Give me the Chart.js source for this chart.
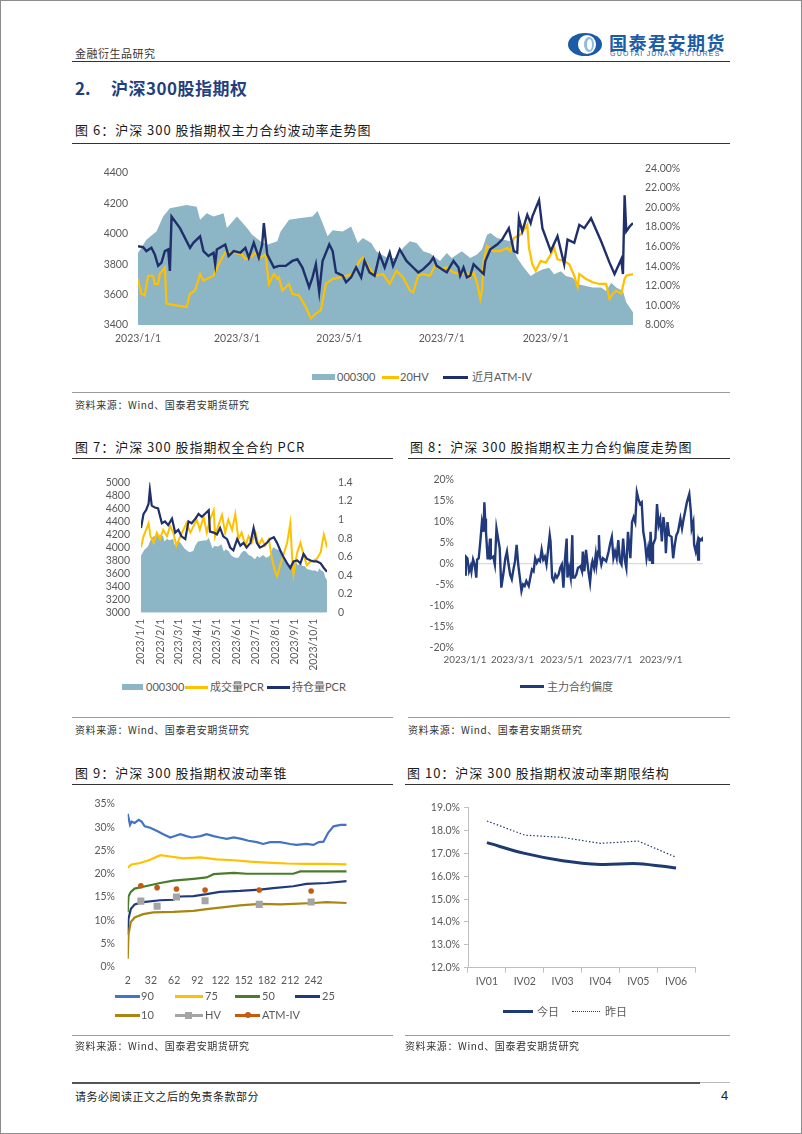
<!DOCTYPE html>
<html lang="zh-CN">
<head>
<meta charset="utf-8">
<title>沪深300股指期权</title>
<script src="https://cdn.jsdelivr.net/npm/chart.js@4.4.0/dist/chart.umd.min.js"></script>
<style>
  html, body { margin: 0; padding: 0; background: #fff; }
  body { width: 802px; height: 1134px; position: relative; overflow: hidden;
         font-family: "Noto Sans CJK SC", "Noto Sans", sans-serif; color: #222; }
  .frame { position: absolute; left: 0; top: 0; width: 800px; height: 1132px; border: 1px solid #8c8c8c; }
  .abs { position: absolute; white-space: nowrap; }
  .hl { position: absolute; height: 0; }
  canvas { position: absolute; }
  .ftitle { font-size: 13px; letter-spacing: 1px; line-height: 16px; color: #1a1a1a; }
  .src { font-size: 10px; line-height: 12px; color: #333; letter-spacing: 0.6px; }
  .lg { font-family: Lato, "Noto Sans CJK SC", sans-serif; font-size: 11px; color: #595959; line-height: 14px; }
  .sw { position: absolute; }
</style>
</head>
<body>
<div class="frame"></div>

<!-- 页眉 -->
<div class="abs" style="left:75px;top:46px;font-size:11px;line-height:14px;color:#333;letter-spacing:0.5px;">金融衍生品研究</div>
<div class="abs" style="left:568px;top:33px;width:34px;height:23px;border-radius:50%;background:#1c5ba6;"></div>
<div class="abs" style="left:578px;top:35px;width:18px;height:19px;border-radius:50%;background:#fff;"></div>
<div class="abs" style="left:584px;top:37px;width:10px;height:15px;border-radius:50%;background:#8fbbe3;"></div>
<div class="abs" style="left:587px;top:39px;width:5px;height:11px;border-radius:50%;background:#fff;"></div>
<div class="abs" style="left:609px;top:31px;font-size:18px;line-height:22px;font-weight:bold;color:#1c5ba6;letter-spacing:1.5px;">国泰君安期货</div>
<div class="abs" style="left:610px;top:50px;font-family:'Liberation Sans',sans-serif;font-size:7px;line-height:8px;color:#1c5ba6;letter-spacing:1.2px;">GUOTAI JUNAN FUTURES</div>
<div class="hl" style="left:72px;top:61px;width:658px;border-top:1.5px solid #333;"></div>

<div class="abs" style="left:75px;top:77px;font-size:17px;line-height:22px;font-weight:bold;color:#1f3f7f;">2.</div>
<div class="abs" style="left:111px;top:77px;font-size:17px;line-height:22px;font-weight:bold;color:#1f3f7f;letter-spacing:0.5px;">沪深300股指期权</div>

<!-- 图6 -->
<div class="abs ftitle" style="left:75px;top:122px;">图 6：沪深 300 股指期权主力合约波动率走势图</div>
<div class="hl" style="left:72px;top:143px;width:658px;border-top:1px solid #333;"></div>
<canvas id="c6" width="615" height="205" style="left:85px;top:150px;"></canvas>
<div class="sw" style="left:312px;top:374px;width:23px;height:6px;background:#8cb5c5;"></div>
<div class="abs lg" style="left:337px;top:370px;">000300</div>
<div class="sw" style="left:382px;top:376px;width:17px;height:3px;background:#ffc000;"></div>
<div class="abs lg" style="left:400px;top:370px;">20HV</div>
<div class="sw" style="left:443px;top:376px;width:25px;height:3px;background:#1f2f6b;"></div>
<div class="abs lg" style="left:472px;top:370px;">近月ATM-IV</div>
<div class="hl" style="left:72px;top:392px;width:658px;border-top:1.5px solid #9a9a9a;"></div>
<div class="abs src" style="left:75px;top:399px;">资料来源：Wind、国泰君安期货研究</div>

<!-- 图7 -->
<div class="abs ftitle" style="left:75px;top:439px;">图 7：沪深 300 股指期权全合约 PCR</div>
<div class="hl" style="left:72px;top:458px;width:321px;border-top:1px solid #333;"></div>
<canvas id="c7" width="275" height="205" style="left:90px;top:465px;"></canvas>
<div class="sw" style="left:122px;top:684px;width:21px;height:6px;background:#8cb5c5;"></div>
<div class="abs lg" style="left:146px;top:680px;">000300</div>
<div class="sw" style="left:185px;top:686px;width:23px;height:3px;background:#ffc000;"></div>
<div class="abs lg" style="left:210px;top:680px;">成交量PCR</div>
<div class="sw" style="left:267px;top:686px;width:23px;height:3px;background:#1f2f6b;"></div>
<div class="abs lg" style="left:292px;top:680px;">持仓量PCR</div>
<div class="hl" style="left:72px;top:717px;width:321px;border-top:1.5px solid #9a9a9a;"></div>
<div class="abs src" style="left:75px;top:724px;">资料来源：Wind、国泰君安期货研究</div>

<!-- 图8 -->
<div class="abs ftitle" style="left:410px;top:439px;">图 8：沪深 300 股指期权主力合约偏度走势图</div>
<div class="hl" style="left:408px;top:458px;width:322px;border-top:1px solid #333;"></div>
<canvas id="c8" width="305" height="208" style="left:405px;top:462px;"></canvas>
<div class="sw" style="left:520px;top:685px;width:24px;height:3px;background:#203a7c;"></div>
<div class="abs lg" style="left:547px;top:680px;">主力合约偏度</div>
<div class="hl" style="left:408px;top:717px;width:322px;border-top:1.5px solid #9a9a9a;"></div>
<div class="abs src" style="left:408px;top:724px;">资料来源：Wind、国泰君安期货研究</div>

<!-- 图9 -->
<div class="abs ftitle" style="left:75px;top:765px;">图 9：沪深 300 股指期权波动率锥</div>
<div class="hl" style="left:72px;top:784px;width:321px;border-top:1px solid #333;"></div>
<canvas id="c9" width="285" height="205" style="left:75px;top:785px;"></canvas>
<div class="sw" style="left:115px;top:995px;width:25px;height:2.5px;background:#4472c4;"></div>
<div class="abs lg" style="left:141px;top:989px;">90</div>
<div class="sw" style="left:175px;top:995px;width:28px;height:2.5px;background:#ffc000;"></div>
<div class="abs lg" style="left:205px;top:989px;">75</div>
<div class="sw" style="left:235px;top:995px;width:25px;height:2.5px;background:#4a7c2b;"></div>
<div class="abs lg" style="left:262px;top:989px;">50</div>
<div class="sw" style="left:295px;top:995px;width:25px;height:2.5px;background:#1f3a7a;"></div>
<div class="abs lg" style="left:322px;top:989px;">25</div>
<div class="sw" style="left:115px;top:1014px;width:25px;height:2.5px;background:#a8860f;"></div>
<div class="abs lg" style="left:141px;top:1008px;">10</div>
<div class="sw" style="left:175px;top:1014px;width:28px;height:2.5px;background:#a5a5a5;"></div>
<div class="sw" style="left:185px;top:1012px;width:7px;height:7px;background:#a5a5a5;"></div>
<div class="abs lg" style="left:205px;top:1008px;">HV</div>
<div class="sw" style="left:235px;top:1014px;width:25px;height:2.5px;background:#c55a11;"></div>
<div class="sw" style="left:245px;top:1012px;width:6px;height:6px;border-radius:50%;background:#c55a11;"></div>
<div class="abs lg" style="left:262px;top:1008px;">ATM-IV</div>
<div class="hl" style="left:72px;top:1035px;width:321px;border-top:1.5px solid #9a9a9a;"></div>
<div class="abs src" style="left:75px;top:1040px;">资料来源：Wind、国泰君安期货研究</div>

<!-- 图10 -->
<div class="abs ftitle" style="left:407px;top:765px;">图 10：沪深 300 股指期权波动率期限结构</div>
<div class="hl" style="left:405px;top:784px;width:325px;border-top:1px solid #333;"></div>
<canvas id="c10" width="300" height="200" style="left:405px;top:795px;"></canvas>
<div class="sw" style="left:503px;top:1010px;width:30px;height:3px;background:#1f3a70;"></div>
<div class="abs lg" style="left:537px;top:1005px;">今日</div>
<div class="hl" style="left:572px;top:1011px;width:28px;border-top:1.5px dotted #1f3a70;"></div>
<div class="abs lg" style="left:605px;top:1005px;">昨日</div>
<div class="hl" style="left:405px;top:1035px;width:325px;border-top:1.5px solid #9a9a9a;"></div>
<div class="abs src" style="left:405px;top:1040px;">资料来源：Wind、国泰君安期货研究</div>

<!-- 页脚 -->
<div class="hl" style="left:72px;top:1082px;width:628px;border-top:2px solid #555;"></div>
<div class="hl" style="left:700px;top:1082px;width:30px;border-top:1px solid #bbb;"></div>
<div class="abs" style="left:75px;top:1089px;font-size:11px;line-height:14px;color:#222;letter-spacing:0.5px;">请务必阅读正文之后的免责条款部分</div>
<div class="abs" style="left:721px;top:1088px;font-family:'Liberation Sans',sans-serif;font-size:13px;line-height:15px;color:#222;">4</div>

<script>
// 图6：x 为 2023/1/1 起的自然日序号
const hsDays = [0,5,11,15,19,29,35,37,41,45,51,53,59,65,68,73,77,83,85,90,96,104,107,110,113,116,122,127,131,134,139,142,145,149,154,158,162,166,170,174,180,184,187,193,198,202,205,208,210,214,218,222,226,230,234,237,241,245,248,252,255,259,263,267,271,276,279,282,285,289,291,295];
const hsClose = [3874,3961,4015,4113,4167,4189,4178,4091,4135,4113,4135,4037,4113,4037,3994,3950,3928,3950,4015,4091,4102,4113,4150,4070,3983,4022,4015,4048,3939,3972,3939,3885,3863,3841,3841,3907,3950,3939,3885,3870,3820,3874,3841,3885,3841,3863,3896,3993,4004,3972,3961,3950,3841,3776,3722,3743,3765,3776,3733,3754,3722,3711,3667,3657,3646,3646,3624,3678,3646,3624,3548,3483];
const hvDays = [0,2,4,6,9,10,12,13,16,17,19,29,31,34,37,39,45,49,52,57,62,64,68,70,73,76,78,81,83,84,86,90,92,96,100,103,106,109,112,116,120,124,128,132,134,137,141,146,150,154,158,162,164,167,170,174,177,180,184,188,192,196,198,200,202,204,205,206,208,212,216,220,222,224,228,232,233,235,237,240,243,246,248,250,254,257,260,262,263,267,271,275,279,281,283,285,288,290,291,295];
const hv20 = [12.70,11.19,11.02,13.03,13.03,12.19,12.19,13.20,13.87,10.18,10.11,9.84,11.19,11.52,13.20,12.53,13.03,14.54,15.38,15.38,15.21,14.71,15.04,15.38,14.88,15.21,12.19,13.20,12.70,12.86,11.52,12.19,11.19,11.02,9.84,8.67,9.17,9.51,12.19,12.70,12.86,13.03,13.20,14.54,14.88,14.04,13.03,13.20,12.19,13.53,12.86,11.52,11.35,13.03,13.20,13.03,14.04,13.70,13.87,13.37,13.20,13.37,12.86,13.37,12.36,10.68,11.52,14.54,16.05,15.55,15.55,15.88,15.55,16.89,17.22,18.23,15.88,14.20,13.53,14.54,14.37,15.21,15.88,14.71,14.54,14.20,13.03,11.86,13.20,12.70,12.36,12.19,12.19,10.68,11.19,11.52,11.19,12.70,13.03,13.20];
const ivDays = [0,3,5,8,10,12,14,16,18,19,20,25,31,33,37,39,42,45,46,47,52,54,57,61,64,66,69,72,74,75,77,81,84,88,92,95,98,102,104,106,108,110,114,116,118,122,124,127,130,133,135,138,141,144,147,150,152,156,160,164,167,170,174,176,178,184,188,191,192,194,196,198,200,202,206,207,210,214,217,221,224,226,227,229,232,234,235,239,241,246,250,254,256,260,263,266,270,276,281,284,288,289,290,291,293,295,296];
const atmIv = [16.05,15.95,15.55,15.88,15.21,14.04,14.37,15.55,15.72,13.53,19.07,17.89,15.88,16.39,17.06,15.55,15.04,15.38,14.20,15.72,16.22,15.04,15.55,15.38,15.88,14.88,16.39,14.88,16.22,18.40,15.21,13.87,14.04,14.04,14.54,14.71,13.87,11.86,12.86,14.20,11.35,14.54,16.22,15.55,13.37,13.03,12.36,12.86,13.87,12.86,14.54,13.37,13.03,15.21,13.87,15.38,14.04,15.72,14.54,13.87,13.37,13.70,14.37,14.88,14.04,13.37,14.54,13.87,13.03,13.87,12.86,13.03,14.20,13.87,13.20,14.54,15.72,16.22,16.72,17.89,15.55,15.38,18.90,17.56,19.24,18.40,19.07,20.75,17.89,15.55,17.06,14.20,16.72,16.39,18.23,17.89,18.90,16.55,14.37,13.20,14.71,13.20,21.25,17.56,18.06,18.40,17.39];
const biTickDays = [0, 59, 120, 181, 243];
const biTickLabels = ['2023/1/1', '2023/3/1', '2023/5/1', '2023/7/1', '2023/9/1'];

// 图7
const volPcrDays = [0,4,8,12,15,20,25,30,35,41,46,51,56,62,67,72,78,83,88,93,99,104,109,115,117,122,128,133,138,144,149,154,159,165,170,175,181,186,191,196,202,207,212,215,220,225,231,236,239,241,247,252,257,262,268,273,278,284,289,291,294];
const volPcr = [0.70,0.82,0.89,0.96,0.82,0.75,0.86,0.79,0.89,0.82,0.93,0.86,0.72,0.82,0.89,0.96,0.86,0.93,1.00,0.89,1.03,0.86,1.00,1.10,0.82,0.93,1.05,0.86,1.00,0.89,1.06,0.79,0.86,0.72,0.82,0.75,0.86,0.72,0.79,0.72,0.79,0.58,0.44,0.39,0.51,0.62,0.75,0.96,0.58,0.41,0.65,0.75,0.62,0.51,0.55,0.56,0.58,0.65,0.84,0.79,0.70];
const oiPcrDays = [0,4,8,12,14,17,22,27,33,38,43,49,54,59,64,70,75,80,86,91,96,101,107,109,115,120,125,130,136,141,146,152,157,162,167,173,178,183,188,194,199,204,210,215,220,225,231,236,241,247,252,257,262,268,273,278,284,289,294];
const oiPcr = [0.91,1.06,1.10,1.17,1.32,1.15,1.13,1.12,0.96,0.98,0.94,1.01,0.86,0.89,0.82,0.79,0.98,0.96,1.01,1.06,1.03,1.06,1.10,0.87,0.86,0.84,0.91,0.82,0.79,0.70,0.67,0.79,0.72,0.75,0.70,0.75,0.91,0.75,0.70,0.72,0.75,0.79,0.81,0.75,0.67,0.60,0.53,0.48,0.55,0.56,0.53,0.63,0.58,0.56,0.55,0.55,0.53,0.48,0.44];
const monTickDays = [0, 31, 59, 90, 120, 151, 181, 212, 243, 273];
const monTickLabels = ['2023/1/1','2023/2/1','2023/3/1','2023/4/1','2023/5/1','2023/6/1','2023/7/1','2023/8/1','2023/9/1','2023/10/1'];

// 图8
const skewDays = [0,1,3,5,7,8,10,12,14,15,17,19,21,23,24,25,26,28,29,31,32,35,37,39,41,43,45,48,50,52,54,56,58,60,62,64,66,68,70,72,74,76,79,81,83,85,87,89,91,93,95,97,99,101,105,106,108,110,112,114,116,118,120,122,124,126,127,129,131,133,134,136,138,140,143,145,146,148,150,152,153,155,157,158,160,162,163,165,166,167,169,171,175,178,180,182,184,186,188,190,192,194,196,198,200,202,205,207,209,211,213,215,217,219,221,223,225,227,229,230,232,233,236,238,240,242,244,246,248,249,251,253,256,258,260,262,264,267,269,271,273,275,278,280,281,283,284,286,288,289,290,292,294,295];
const skew = [-2.7,1.6,1.2,-1.9,-0.7,-1.9,0.9,-0.3,-3.4,0.9,1.2,5.2,9.8,7.5,14.5,10.6,7.5,1.2,1.2,5.9,1.2,1.6,-0.3,8.3,5.9,3.6,-5.8,-1.9,1.2,2.8,-0.3,-2.7,-3.8,-1.5,0.5,4.4,-0.3,-3.4,-6.6,-5.0,-5.4,-4.2,-5.4,-3.4,-1.5,-1.9,1.2,0.1,0.9,0.5,3.2,0.9,1.6,-0.3,6.7,5.2,-3.4,-4.2,-2.7,-3.4,-2.7,-1.1,-0.3,-5.8,1.2,5.9,-3.4,-1.1,-3.4,6.7,-3.4,-3.4,-2.7,-1.1,-0.7,-1.9,2.8,-1.9,3.2,-0.3,-1.9,-4.6,-0.3,0.5,-1.1,2.0,-0.3,2.8,6.7,2.0,-0.3,1.2,0.5,2.8,4.8,6.3,1.2,2.8,1.2,5.5,0.5,-0.3,5.9,0.9,-1.1,7.5,1.2,9.8,11.0,9.8,16.9,15.3,14.1,14.5,7.5,5.2,1.2,3.6,0.5,7.5,0.1,4.4,5.9,14.1,9.1,10.6,5.2,11.0,7.5,2.4,9.8,6.7,6.3,1.2,4.4,6.7,7.5,10.6,8.3,10.6,12.5,14.5,16.5,12.2,8.3,9.8,4.4,2.8,4.8,0.9,5.9,5.5,5.9,5.2];

// 图9：波动率锥（x 为期限天数）
const coneTicks = [2, 32, 62, 92, 122, 152, 182, 212, 242];
const p90X = [2,5,7,11,16,20,24,31,40,48,57,63,70,78,85,96,104,113,121,130,139,149,158,169,177,186,199,212,220,233,242,249,255,261,268,277,285];
const p90 = [32.9,30.5,31.2,30.9,31.6,31.2,30.2,29.9,29.2,28.5,27.8,28.1,28.5,28.1,27.8,28.1,28.5,28.1,27.8,27.5,27.8,27.5,27.1,26.8,26.4,26.8,26.8,26.4,26.2,26.4,26.2,26.8,26.9,28.8,30.2,30.5,30.5];
const p75X = [2,7,18,31,44,57,74,96,117,139,160,182,208,233,259,285];
const p75 = [21.3,22.0,22.3,23.0,24.0,23.7,23.3,23.5,23.1,22.9,22.6,22.4,22.2,22.1,22.1,22.0];
const p50X = [2,3,6,11,22,44,61,87,104,113,139,156,216,225,285];
const p50 = [11.7,15.1,16.1,16.8,17.2,18.0,18.5,18.9,19.2,19.9,20.2,20.0,20.0,20.5,20.5];
const p25X = [2,3,6,11,22,44,61,70,87,104,121,147,173,190,216,233,259,285];
const p25 = [6.9,10.3,12.4,13.4,13.9,14.3,14.4,15.1,15.2,15.6,16.1,16.3,16.6,16.9,17.3,17.8,18.0,18.4];
const p10X = [2,3,6,11,22,35,61,87,104,121,147,173,199,216,242,259,285];
const p10 = [1.7,6.9,9.6,10.6,11.3,11.7,11.8,12.0,12.4,12.7,13.2,13.5,13.4,13.5,13.7,13.9,13.7];
const pointX = [19, 40, 65, 102, 172, 239];
const hvCone = [14.1, 13.0, 15.0, 14.2, 13.4, 13.9];
const atmCone = [17.4, 17.0, 16.7, 16.5, 16.5, 16.3];

// 图10：期限结构
const terms = ['IV01', 'IV02', 'IV03', 'IV04', 'IV05', 'IV06'];
const ivToday = [17.47, 17.00, 16.68, 16.52, 16.55, 16.36];
const ivYesterday = [18.42, 17.80, 17.70, 17.44, 17.54, 16.83];

document.addEventListener("DOMContentLoaded", function () {

    Chart.defaults.font.family = 'Lato, "Noto Sans", sans-serif';
    Chart.defaults.font.size = 10.5;
    Chart.defaults.color = '#595959';
    Chart.defaults.animation = false;
    Chart.defaults.plugins.legend.display = false;
    Chart.defaults.plugins.tooltip.enabled = false;

    const AREA = '#8cb5c5';
    const pts = (xs, ys) => xs.map((x, i) => ({ x: x, y: ys[i] }));
    const setW = w => s => { s.width = w; };
    const setH = h => s => { s.height = h; };
    const fixTicks = list => s => { s.ticks = list.map(v => ({ value: v })); };
    const noGrid = { display: false, drawTicks: false };
    const noBorder = { display: false };

    function lineSet(data, color, width, yAxis, order) {
        return { data: data, borderColor: color, borderWidth: width, pointRadius: 0,
                 tension: 0, fill: false, yAxisID: yAxis, order: order };
    }

    // 图6
    new Chart(document.getElementById('c6'), {
        type: 'line',
        data: { datasets: [
            { data: pts(hsDays, hsClose), borderWidth: 0, backgroundColor: AREA, fill: 'start',
              pointRadius: 0, yAxisID: 'y', order: 3 },
            lineSet(pts(hvDays, hv20), '#ffc000', 2.2, 'y1', 2),
            lineSet(pts(ivDays, atmIv), '#1f2f6b', 2.4, 'y1', 1)
        ] },
        options: {
            responsive: false,
            layout: { padding: { top: 16, left: 0, right: 0, bottom: 0 } },
            scales: {
                x: { type: 'linear', min: 0, max: 295, grid: noGrid, border: noBorder,
                     afterBuildTicks: fixTicks(biTickDays), afterFit: setH(30),
                     ticks: { autoSkip: false, maxRotation: 0, padding: 7,
                              callback: v => biTickLabels[biTickDays.indexOf(v)] } },
                y: { position: 'left', min: 3400, max: 4430, grid: noGrid, border: noBorder,
                     afterBuildTicks: fixTicks([3400, 3600, 3800, 4000, 4200, 4400]), afterFit: setW(53),
                     ticks: { autoSkip: false, padding: 10, callback: v => String(v) } },
                y1: { position: 'right', min: 8, max: 24, grid: noGrid, border: noBorder,
                      afterFit: setW(67),
                      ticks: { autoSkip: false, stepSize: 2, padding: 12, callback: v => v.toFixed(2) + '%' } }
            }
        }
    });

    // 图7
    new Chart(document.getElementById('c7'), {
        type: 'line',
        data: { datasets: [
            { data: pts(hsDays, hsClose), borderWidth: 0, backgroundColor: AREA, fill: 'start',
              pointRadius: 0, yAxisID: 'y', order: 3 },
            lineSet(pts(volPcrDays, volPcr), '#ffc000', 2, 'y1', 2),
            lineSet(pts(oiPcrDays, oiPcr), '#1f2f6b', 2.2, 'y1', 1)
        ] },
        options: {
            responsive: false,
            layout: { padding: { top: 12.7, left: 0, right: 0, bottom: 0 } },
            scales: {
                x: { type: 'linear', min: 0, max: 294, grid: noGrid, border: noBorder,
                     afterBuildTicks: fixTicks(monTickDays), afterFit: setH(57.3),
                     ticks: { autoSkip: false, minRotation: 90, maxRotation: 90, padding: 6,
                              callback: v => monTickLabels[monTickDays.indexOf(v)] } },
                y: { position: 'left', min: 3000, max: 5000, grid: noGrid, border: noBorder,
                     afterFit: setW(51),
                     ticks: { autoSkip: false, stepSize: 200, padding: 11, callback: v => String(v) } },
                y1: { position: 'right', min: 0, max: 1.4, grid: noGrid, border: noBorder,
                      afterFit: setW(38),
                      ticks: { autoSkip: false, stepSize: 0.2, padding: 11, callback: v => String(+v.toFixed(1)) } }
            }
        }
    });

    // 图8
    new Chart(document.getElementById('c8'), {
        type: 'line',
        data: { datasets: [ lineSet(pts(skewDays, skew), '#203a7c', 2.4, 'y', 1) ] },
        options: {
            responsive: false,
            layout: { padding: { top: 14.7, left: 0, right: 7, bottom: 0 } },
            scales: {
                x: { type: 'linear', min: 0, max: 295, grid: noGrid, border: noBorder,
                     afterBuildTicks: fixTicks(biTickDays), afterFit: setH(22.7),
                     ticks: { autoSkip: false, maxRotation: 0, padding: 7, font: { size: 9.8 },
                              callback: v => biTickLabels[biTickDays.indexOf(v)] } },
                y: { min: -20, max: 20, border: noBorder, afterFit: setW(60),
                     grid: { drawTicks: false, lineWidth: 1.2,
                             color: c => (c.tick && c.tick.value === 0) ? '#d9d9d9' : 'rgba(0,0,0,0)' },
                     ticks: { autoSkip: false, stepSize: 5, padding: 11, callback: v => v + '%' } }
            }
        }
    });

    // 图9
    new Chart(document.getElementById('c9'), {
        type: 'line',
        data: { datasets: [
            lineSet(pts(p90X, p90), '#4472c4', 2.2, 'y', 6),
            lineSet(pts(p75X, p75), '#ffc000', 2.2, 'y', 5),
            lineSet(pts(p50X, p50), '#4a7c2b', 2.2, 'y', 4),
            lineSet(pts(p25X, p25), '#1f3a7a', 2.2, 'y', 3),
            lineSet(pts(p10X, p10), '#a8860f', 2.2, 'y', 2),
            { data: pts(pointX, hvCone), showLine: false, pointStyle: 'rect', pointRadius: 5,
              backgroundColor: '#a5a5a5', borderColor: '#a5a5a5', borderWidth: 0, order: 1 },
            { data: pts(pointX, atmCone), showLine: false, pointStyle: 'circle', pointRadius: 2.8,
              backgroundColor: '#c55a11', borderColor: '#c55a11', borderWidth: 0, order: 0 }
        ] },
        options: {
            responsive: false,
            layout: { padding: { top: 11.7, left: 0, right: 13.3, bottom: 0 } },
            scales: {
                x: { type: 'linear', min: 2, max: 285, grid: noGrid, border: noBorder,
                     afterBuildTicks: fixTicks(coneTicks), afterFit: setH(23.3),
                     ticks: { autoSkip: false, maxRotation: 0, padding: 8 } },
                y: { min: 0, max: 35, grid: noGrid, border: noBorder, afterFit: setW(52.7),
                     ticks: { autoSkip: false, stepSize: 5, padding: 12.7, callback: v => v + '%' } }
            }
        }
    });

    // 图10
    new Chart(document.getElementById('c10'), {
        type: 'line',
        data: {
            labels: terms,
            datasets: [
                { data: ivToday, borderColor: '#1f3a70', borderWidth: 3, pointRadius: 0,
                  tension: 0.35, fill: false, order: 1 },
                { data: ivYesterday, borderColor: '#1f3a70', borderWidth: 1.2, borderDash: [1.5, 2],
                  pointRadius: 0, tension: 0, fill: false, order: 2 }
            ]
        },
        options: {
            responsive: false,
            layout: { padding: { top: 12.7, left: 0, right: 10, bottom: 0 } },
            scales: {
                x: { offset: true, afterFit: setH(27.3),
                     grid: { offset: true, drawOnChartArea: false, drawTicks: true, tickLength: 5, color: '#bfbfbf' },
                     border: { display: true, color: '#bfbfbf' },
                     ticks: { autoSkip: false, maxRotation: 0, padding: 3 } },
                y: { min: 12, max: 19, afterFit: setW(63),
                     grid: { drawOnChartArea: false, drawTicks: true, tickLength: 4, color: '#bfbfbf' },
                     border: { display: true, color: '#bfbfbf' },
                     ticks: { autoSkip: false, stepSize: 1, padding: 4, callback: v => v.toFixed(1) + '%' } }
            }
        }
    });

});
</script>
</body>
</html>
